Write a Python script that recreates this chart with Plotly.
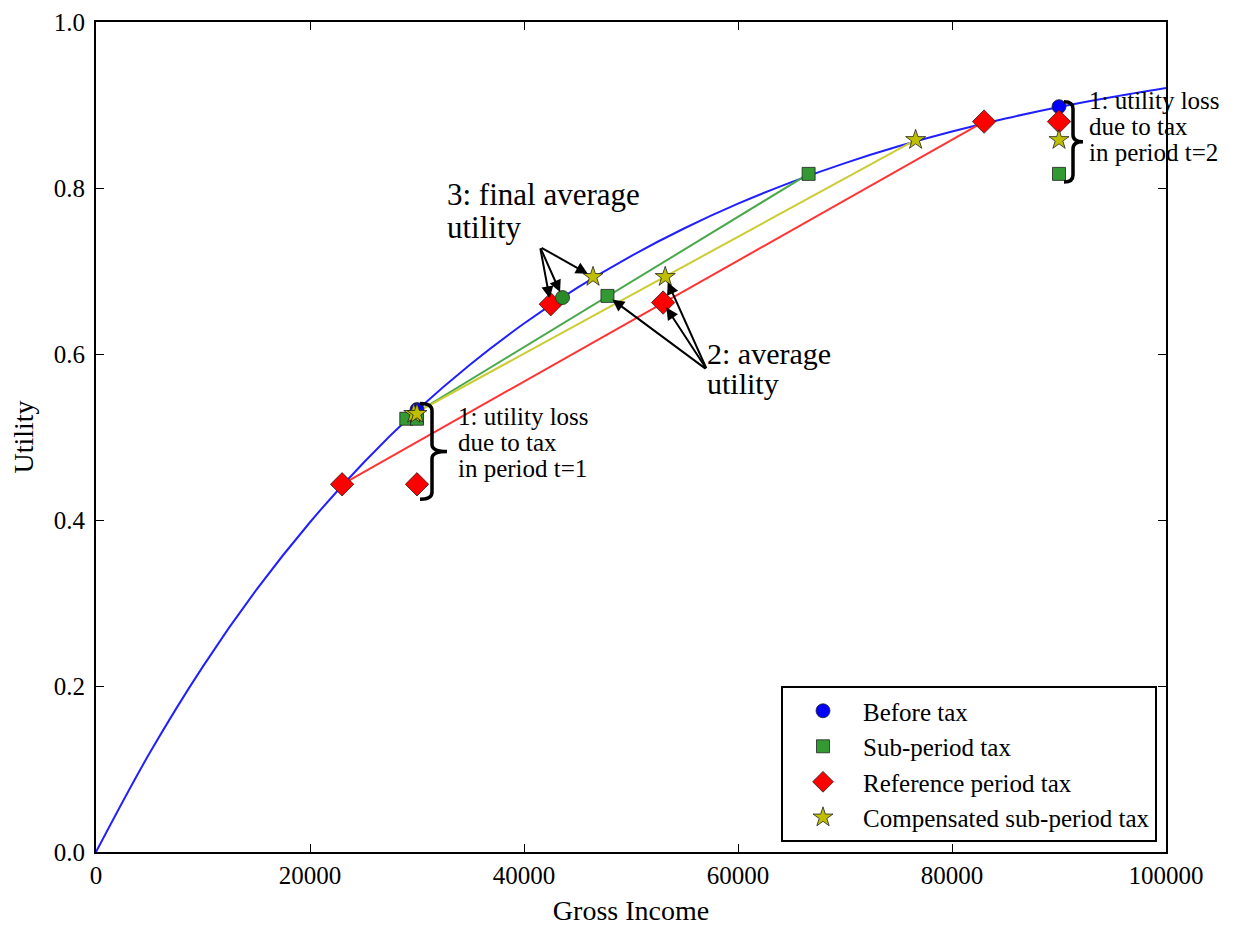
import plotly.graph_objects as go

# ---------------- data ----------------
curve_income = [0, 5000, 10000, 15000, 20000, 25000, 30000, 35000, 40000, 45000, 50000,
                55000, 60000, 65000, 70000, 75000, 80000, 85000, 90000, 95000, 100000]
curve_utility = [0.0, 0.1189, 0.2237, 0.3160, 0.3973, 0.4690, 0.5321, 0.5877, 0.6367, 0.6799, 0.7180,
                 0.7515, 0.7811, 0.8071, 0.8300, 0.8502, 0.8680, 0.8837, 0.8976, 0.9097, 0.9205]

before_income = [30000, 90000]
before_utility = [0.533, 0.898]

sub_income = [29000, 30000, 66600, 90000, 47800]
sub_utility = [0.522, 0.522, 0.817, 0.817, 0.670]
sub_line_income = [29000, 66600]
sub_line_utility = [0.522, 0.817]

ref_income = [23000, 30000, 83000, 90000, 53000, 42500]
ref_utility = [0.443, 0.443, 0.880, 0.880, 0.662, 0.660]
ref_line_income = [23000, 83000]
ref_line_utility = [0.443, 0.880]

comp_income = [29700, 30000, 76600, 90000, 53200, 46450]
comp_utility = [0.528, 0.528, 0.858, 0.858, 0.693, 0.693]
comp_line_income = [29700, 76600]
comp_line_utility = [0.528, 0.858]

ce_sub_income = [43600]
ce_sub_utility = [0.668]

x_ticks = [0, 20000, 40000, 60000, 80000, 100000]
y_ticks = [0.0, 0.2, 0.4, 0.6, 0.8, 1.0]

loss_lines_t1 = ["1: utility loss", "due to tax", "in period t=1"]
loss_lines_t2 = ["1: utility loss", "due to tax", "in period t=2"]
final_avg_lines = ["3: final average", "utility"]
avg_lines = ["2: average", "utility"]

FONT = "Liberation Serif"
BLUE = "#0000ff"
GREEN = "#339933"
RED = "#ff0000"
YELLOW = "#bfbf00"

# pixel helpers for layout conversion (plot area 1070 x 830 px)
PX_X = 100000 / 1070.0
PX_Y = 1.0 / 830.0

fig = go.Figure()

fig.add_trace(go.Scatter(x=curve_income, y=curve_utility, mode="lines", line=dict(color="#2020ff", width=2, shape="spline"),
                         showlegend=False, hoverinfo="skip"))
fig.add_trace(go.Scatter(x=sub_line_income, y=sub_line_utility, mode="lines", line=dict(color="#4aa84a", width=2),
                         showlegend=False, hoverinfo="skip"))
fig.add_trace(go.Scatter(x=comp_line_income, y=comp_line_utility, mode="lines", line=dict(color="#cccc33", width=2),
                         showlegend=False, hoverinfo="skip"))
fig.add_trace(go.Scatter(x=ref_line_income, y=ref_line_utility, mode="lines", line=dict(color="#ff3333", width=2),
                         showlegend=False, hoverinfo="skip"))

mline = dict(color="#222222", width=0.8)
fig.add_trace(go.Scatter(x=before_income, y=before_utility, mode="markers", name="Before tax",
                         marker=dict(symbol="circle", size=14, color=BLUE, line=mline)))
fig.add_trace(go.Scatter(x=sub_income, y=sub_utility, mode="markers", name="Sub-period tax",
                         marker=dict(symbol="square", size=13, color=GREEN, line=mline)))
fig.add_trace(go.Scatter(x=ref_income, y=ref_utility, mode="markers", name="Reference period tax",
                         marker=dict(symbol="diamond", size=18, color=RED, line=mline)))
fig.add_trace(go.Scatter(x=ce_sub_income, y=ce_sub_utility, mode="markers", showlegend=False,
                         marker=dict(symbol="circle", size=14, color="#2a8a2a", line=mline)))
fig.add_trace(go.Scatter(x=comp_income, y=comp_utility, mode="markers", name="Compensated sub-period tax",
                         marker=dict(symbol="star", size=15, color=YELLOW, line=mline)))

annotations = []


def text_block(lines, x_left, y_first, spacing_px, size):
    for i, line in enumerate(lines):
        annotations.append(dict(x=x_left, y=y_first - i * spacing_px * PX_Y, xref="x", yref="y",
                                xanchor="left", yanchor="middle", showarrow=False, text=line,
                                font=dict(family=FONT, size=size, color="black")))


# "3: final average utility" arrows
tail3 = (41500, 0.729)
targets3 = [(ref_income[5], ref_utility[5]), (ce_sub_income[0], ce_sub_utility[0]), (comp_income[5], comp_utility[5])]
for tx, ty in targets3:
    annotations.append(dict(x=tx, y=ty, ax=tail3[0], ay=tail3[1], axref="x", ayref="y", xref="x", yref="y",
                            text="", showarrow=True, arrowhead=2, arrowsize=1.2, arrowwidth=2,
                            arrowcolor="black", standoff=6))
text_block(final_avg_lines, 32600, 0.792, 33, 31)

# "2: average utility" arrows
tail2 = (57100, 0.581)
targets2 = [(sub_income[4], sub_utility[4]), (ref_income[4], ref_utility[4]), (comp_income[4], comp_utility[4])]
for tx, ty in targets2:
    annotations.append(dict(x=tx, y=ty, ax=tail2[0], ay=tail2[1], axref="x", ayref="y", xref="x", yref="y",
                            text="", showarrow=True, arrowhead=2, arrowsize=1.2, arrowwidth=2,
                            arrowcolor="black", standoff=6))
text_block(avg_lines, 56900, 0.601, 30, 30)

# loss labels
text_block(loss_lines_t1, 33600, 0.525, 26, 25)
text_block(loss_lines_t2, 92600, 0.906, 26, 25)


# curly braces spanning the utility loss of each period (built from the data)
def brace_path(x0, y_bot, y_top, w_arm, w_tip):
    xa = x0 + w_arm
    xt = x0 + w_arm + w_tip
    ym = (y_bot + y_top) / 2.0
    r = 7 * PX_Y
    return (f"M {x0},{y_top} Q {xa},{y_top} {xa},{y_top - r} "
            f"L {xa},{ym + r} Q {xa},{ym} {xt},{ym} "
            f"Q {xa},{ym} {xa},{ym - r} "
            f"L {xa},{y_bot + r} Q {xa},{y_bot} {x0},{y_bot}")


shapes = [
    dict(type="path", xref="x", yref="y",
         path=brace_path(before_income[0] + 3 * PX_X, ref_utility[1] - 15 * PX_Y, before_utility[0] + 6 * PX_Y,
                         12 * PX_X, 15 * PX_X),
         line=dict(color="black", width=3.5)),
    dict(type="path", xref="x", yref="y",
         path=brace_path(before_income[1] + 5 * PX_X, sub_utility[3] - 8 * PX_Y, before_utility[1] + 5 * PX_Y,
                         9 * PX_X, 10 * PX_X),
         line=dict(color="black", width=3.5)),
]

axis_common = dict(showgrid=False, zeroline=False, showline=True, linecolor="black", linewidth=2,
                   mirror="ticks", ticks="inside", ticklen=8, tickwidth=1.2, tickcolor="black",
                   automargin=False, tickfont=dict(family=FONT, size=25, color="black"))

fig.update_layout(
    width=1241, height=928,
    margin=dict(l=88, r=83, t=14, b=84),
    paper_bgcolor="white", plot_bgcolor="white",
    font=dict(family=FONT, color="black"),
    xaxis=dict(range=[0, 100000], tickvals=x_ticks, ticktext=[str(v) for v in x_ticks],
               title=dict(text="Gross Income", font=dict(family=FONT, size=28), standoff=12), **axis_common),
    yaxis=dict(range=[0, 1.0], tickvals=y_ticks, ticktext=["%.1f" % v for v in y_ticks],
               ticklabelstandoff=4,
               title=dict(text="Utility", font=dict(family=FONT, size=28), standoff=14), **axis_common),
    legend=dict(x=0.9916, y=0.012, xanchor="right", yanchor="bottom", bgcolor="white",
                bordercolor="black", borderwidth=2, itemwidth=70,
                font=dict(family=FONT, size=25, color="black")),
    annotations=annotations,
    shapes=shapes,
    showlegend=True,
)

fig.write_html("out.html")
